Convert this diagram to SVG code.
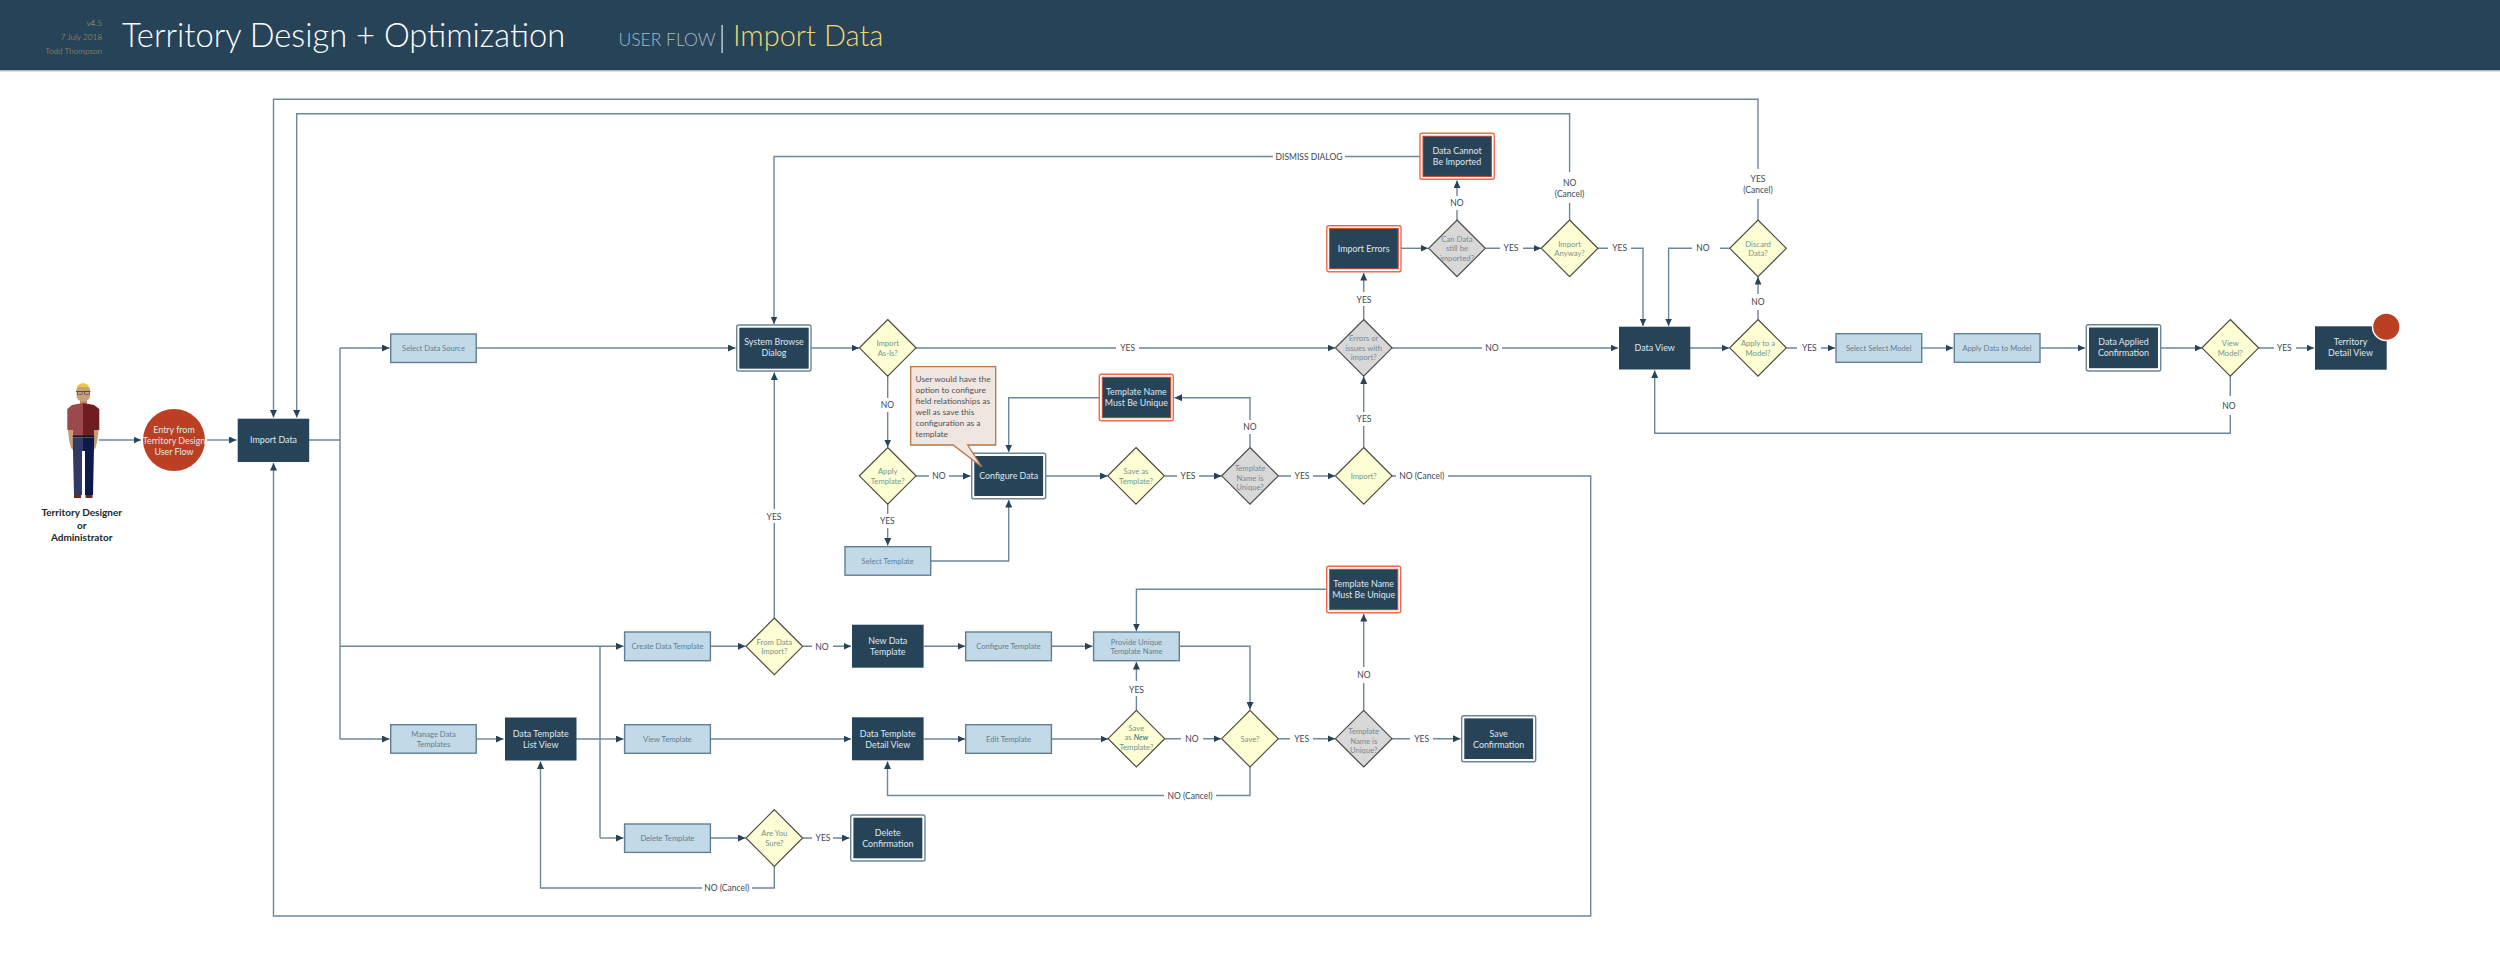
<svg xmlns="http://www.w3.org/2000/svg" width="2500" height="966" viewBox="0 0 2500 966">
<style>
text{font-family:Lato,"Liberation Sans",sans-serif;text-anchor:middle}
.d{fill:#274358}
.dt{fill:#dfe8ee;font-size:8.9px}
.o{fill:#fff;stroke:#6b8599;stroke-width:1.4}
.r{fill:#fff;stroke:#ef6a4c;stroke-width:1.4}
.ri{fill:#274358;stroke:#c8432a;stroke-width:1}
.l{fill:#c2dae7;stroke:#617e94;stroke-width:1.4}
.lt{fill:#5f7e94;font-size:7.6px}
.y{fill:#fefed4;stroke:#4d4a3e;stroke-width:1.2}
.yt{fill:#76958f;font-size:7.7px}
.g{fill:#d8d8d8;stroke:#4a4a4a;stroke-width:1.2}
.gt{fill:#758a9b;font-size:7.7px}
.c{fill:none;stroke:#6d879b;stroke-width:1.4}
.a{marker-end:url(#ah)}
.t{fill:#3d4650;font-size:8.5px}
.n{text-anchor:start;font-size:8.4px;fill:#4f5257}
.h{font-size:8.2px;font-weight:300;fill:#b6a95e}
.p{font-size:10px;font-weight:700;fill:#20262c}
</style>
<defs><marker id="ah" markerUnits="userSpaceOnUse" markerWidth="8" markerHeight="7" refX="7.500" refY="3.500" orient="auto"><path d="M0 0L7.500 3.500L0 7Z" fill="#274358"/></marker></defs>
<rect width="2500" height="966" fill="#fff"/>
<g id="header">
<rect width="2500" height="70.500" fill="#274358"/>
<rect y="70.500" width="2500" height="1.200" fill="#c8d4dd"/>
<text class="h" x="102" y="26" style="text-anchor:end">v4.5</text>
<text class="h" x="102" y="40" style="text-anchor:end">7 July 2018</text>
<text class="h" x="102" y="54" style="text-anchor:end">Todd Thompson</text>
<text x="122" y="47" style="text-anchor:start;font-size:32.700px;font-weight:300" fill="#fff">Territory Design + Optimization</text>
<text x="618.500" y="46" style="text-anchor:start;font-size:17.500px;font-weight:300" fill="#a6bccb">USER FLOW</text>
<rect x="721.500" y="25" width="1.200" height="28" fill="#dfe8ee"/>
<text x="733" y="46" style="text-anchor:start;font-size:29px;font-weight:300" fill="#efd872">Import Data</text>
</g>
<g id="connectors">
<path class="c a" d="M99 440H141"/>
<path class="c a" d="M207 440H236.500"/>
<path class="c" d="M309 440H340M340 348V739"/>
<path class="c a" d="M340 348H389.500"/>
<path class="c a" d="M340 739H389.500"/>
<path class="c a" d="M340 646.300H623.500"/>
<path class="c a" d="M476 739H503.500"/>
<path class="c" d="M576 739H600M600 646.300V838"/>
<path class="c a" d="M600 739H623.500"/>
<path class="c a" d="M600 838H623.500"/>
<path class="c a" d="M476 348H735.500"/>
<path class="c a" d="M811 348H859"/>
<path class="c a" d="M916 348H1116M1139 348H1335"/>
<path class="c a" d="M887.700 376V398M887.700 412V447"/>
<path class="c a" d="M916 476H929M949 476H970.500"/>
<path class="c a" d="M887.700 504V514M887.700 528V545.500"/>
<path class="c a" d="M930.700 561H1008.700V500"/>
<path class="c a" d="M1045.700 476H1107.500"/>
<path class="c a" d="M1164.500 476H1177M1199 476H1221.500"/>
<path class="c a" d="M1278.500 476H1291M1313 476H1335"/>
<path class="c a" d="M1250 447.500V434M1250 420V397.700H1174.500"/>
<path class="c a" d="M1099.300 397.700H1008.700V452"/>
<path class="c a" d="M1363.700 447.500V426M1363.700 412V376.500"/>
<path class="c a" d="M1392 476H1396M1448 476H1590.700V916H273.500V463"/>
<path class="c a" d="M1392 348H1482M1502 348H1618"/>
<path class="c a" d="M1363.700 319.500V306M1363.700 292V273"/>
<path class="c a" d="M1401 248.300H1428"/>
<path class="c a" d="M1457 220V210M1457 196V180.500"/>
<path class="c a" d="M1420 156.500H1345M1273 156.500H774V324"/>
<path class="c a" d="M1485.500 248.300H1500M1523 248.300H1541"/>
<path class="c a" d="M1598 248.300H1608M1631 248.300H1643V326"/>
<path class="c a" d="M1569.600 220V203M1569.600 172V113.700H296.700V417.500"/>
<path class="c a" d="M1758 220V199M1758 169V99.300H273.500V417.500"/>
<path class="c a" d="M1729.500 248.300H1720M1692 248.300H1668.600V326"/>
<path class="c a" d="M1758 319.500V310M1758 294V277"/>
<path class="c a" d="M1690 348H1729"/>
<path class="c a" d="M1786.500 348H1797M1821 348H1835"/>
<path class="c a" d="M1921.700 348H1953"/>
<path class="c a" d="M2040 348H2085"/>
<path class="c a" d="M2160.700 348H2202"/>
<path class="c a" d="M2258.500 348H2274M2296 348H2314"/>
<path class="c a" d="M2230.300 376V396M2230.300 415V433.300H1654.700V370.500"/>
<path class="c a" d="M710.400 646.300H745.500"/>
<path class="c a" d="M774.300 618V523M774.300 509V372.500"/>
<path class="c a" d="M803 646.300H812M833 646.300H851"/>
<path class="c a" d="M923.600 646.300H965"/>
<path class="c a" d="M1051.400 646.300H1092.500"/>
<path class="c a" d="M710.400 739H851"/>
<path class="c a" d="M923.600 739H965"/>
<path class="c a" d="M1051.400 739H1108"/>
<path class="c a" d="M1136.400 710.500V696M1136.400 681V662"/>
<path class="c a" d="M1165 738.700H1181M1203 738.700H1221"/>
<path class="c a" d="M1278.500 738.700H1290M1313 738.700H1335"/>
<path class="c a" d="M1392 738.700H1410M1433 738.700H1460.500"/>
<path class="c a" d="M1363.700 710.500V683M1363.700 667V614"/>
<path class="c a" d="M1326.700 589.300H1136.400V631"/>
<path class="c a" d="M1179.300 646.300H1250V709.500"/>
<path class="c a" d="M1250 767V795.500H1216M1164 795.500H887.500V761.500"/>
<path class="c a" d="M710.400 838H745.500"/>
<path class="c a" d="M803 838H812M833 838H849.500"/>
<path class="c a" d="M774.300 866.500V888H752M702 888H540.500V761.500"/>
<text class="t" x="1127.700" y="351">YES</text>
<text class="t" x="887.300" y="408">NO</text>
<text class="t" x="939" y="479">NO</text>
<text class="t" x="887.300" y="524">YES</text>
<text class="t" x="774" y="520">YES</text>
<text class="t" x="1188" y="479">YES</text>
<text class="t" x="1302" y="479">YES</text>
<text class="t" x="1250" y="430">NO</text>
<text class="t" x="1364" y="422">YES</text>
<text class="t" x="1421.700" y="479">NO (Cancel)</text>
<text class="t" x="1309" y="159.700">DISMISS DIALOG</text>
<text class="t" x="1457" y="206">NO</text>
<text class="t" x="1511" y="251.300">YES</text>
<text class="t" x="1619.600" y="251.300">YES</text>
<text class="t" x="1703" y="251.300">NO</text>
<text class="t" x="1364" y="302.500">YES</text>
<text class="t" x="1491.800" y="351">NO</text>
<text class="t" x="1758" y="305">NO</text>
<text class="t" x="1569.600" y="186">NO</text>
<text class="t" x="1569.600" y="197">(Cancel)</text>
<text class="t" x="1758" y="181.500">YES</text>
<text class="t" x="1758" y="192.500">(Cancel)</text>
<text class="t" x="1809.300" y="351">YES</text>
<text class="t" x="2284.300" y="351">YES</text>
<text class="t" x="2229" y="408.500">NO</text>
<text class="t" x="822" y="649.500">NO</text>
<text class="t" x="823" y="841">YES</text>
<text class="t" x="726.800" y="891">NO (Cancel)</text>
<text class="t" x="1136.500" y="692.500">YES</text>
<text class="t" x="1192" y="742">NO</text>
<text class="t" x="1301.700" y="742">YES</text>
<text class="t" x="1421.700" y="742">YES</text>
<text class="t" x="1364" y="678">NO</text>
<text class="t" x="1190" y="799">NO (Cancel)</text>
</g>
<g id="person">
<path d="M68 430H72.500L73 445L75 452L71 448L69 440ZM94 430H98.500L97.500 440L95.500 448L92 452L94 445Z" fill="#c79d78"/>
<rect x="80" y="400" width="7" height="6" fill="#b98c66"/>
<path d="M76.500 390C76.500 384 90 384 90 390V396C90 403 76.500 403 76.500 396Z" fill="#c9a07c"/>
<path d="M76.500 390C76 381 90 381 90 390L88 387H78Z" fill="#ecc93e"/>
<path d="M76 391.300H90.500V392.100H89.500V394.500H84.200V392.100H82.300V394.500H77V392.100H76Z" fill="#333"/>
<path d="M77.500 391.900H81.700V394H77.500ZM84.800 391.900H89V394H84.800Z" fill="#c9a07c"/>
<path d="M83 403L72 405L67.300 409V430H72.700V436H83Z" fill="#9b494d"/>
<path d="M83 403L94 405L99.300 409V430H94V436H83Z" fill="#6e1e21"/>
<rect x="72.700" y="435.500" width="21.500" height="2" fill="#141414"/>
<path d="M72.700 437.500H83V451H82V495H74Z" fill="#303a64"/>
<path d="M83 437.500H94.200L93 495H85V451H83Z" fill="#0b1a4b"/>
<rect x="74" y="495" width="7" height="3" fill="#6b2a18"/>
<rect x="85.500" y="495" width="7" height="3" fill="#6b2a18"/>
<text class="p" x="81.700" y="516">Territory Designer</text><text class="p" x="81.700" y="528.500">or</text><text class="p" x="81.700" y="541">Administrator</text>
</g>
<g id="entry"><circle cx="174" cy="440" r="31" fill="#bb3f22"/><text class="dt" x="174" y="432.500">Entry from</text><text class="dt" x="174" y="443.500">Territory Design</text><text class="dt" x="174" y="454.500">User Flow</text></g>
<g id="import-data"><rect class="d" x="237.700" y="418.700" width="71.500" height="43.300"/><text class="dt" x="273.500" y="443.200">Import Data</text></g>
<g id="select-data-source"><rect class="l" x="390.700" y="334" width="85.500" height="28.500"/><text class="lt" x="433.500" y="351">Select Data Source</text></g>
<g id="manage-data-templates"><rect class="l" x="390.700" y="724.700" width="85.500" height="28.500"/><text class="lt" x="433.500" y="737">Manage Data</text><text class="lt" x="433.500" y="746.500">Templates</text></g>
<g id="list-view"><rect class="d" x="505" y="717.500" width="71.500" height="43"/><text class="dt" x="540.700" y="736.700">Data Template</text><text class="dt" x="540.700" y="747.700">List View</text></g>
<g id="system-browse"><rect class="o" x="736.700" y="325" width="74.300" height="46" rx="2"/><rect class="d" x="739.300" y="327.700" width="69.400" height="41"/><text class="dt" x="774" y="345.300">System Browse</text><text class="dt" x="774" y="356.300">Dialog</text></g>
<g id="import-as-is"><path class="y" d="M887.700 319.500L916 347.800L887.700 376.100L859.400 347.800Z"/><text class="yt" x="887.700" y="346">Import</text><text class="yt" x="887.700" y="355.500">As-Is?</text></g>
<g id="apply-template"><path class="y" d="M887.700 447.500L916 475.800L887.700 504.100L859.400 475.800Z"/><text class="yt" x="887.700" y="474">Apply</text><text class="yt" x="887.700" y="483.500">Template?</text></g>
<g id="select-template"><rect class="l" x="845" y="546.700" width="85.700" height="28.500"/><text class="lt" x="887.700" y="564">Select Template</text></g>
<g id="configure-data"><rect class="o" x="971.700" y="453.300" width="74" height="45.400" rx="2"/><rect class="d" x="974.300" y="456" width="68.800" height="40"/><text class="dt" x="1008.700" y="479">Configure Data</text></g>
<g id="callout"><path d="M910.700 366.700H995.700V445H967.700L981.700 466.700L953 445H910.700Z" fill="#efe6e1" stroke="#b9764a" stroke-width="1.300"/>
<text class="n" x="915.500" y="382.200">User would have the</text><text class="n" x="915.500" y="393.200">option to configure</text><text class="n" x="915.500" y="404.200">field relationships as</text><text class="n" x="915.500" y="415.200">well as save this</text><text class="n" x="915.500" y="426.200">configuration as a</text><text class="n" x="915.500" y="437.200">template</text></g>
<g id="unique-error-1"><rect class="r" x="1099.300" y="374.300" width="74" height="46.400" rx="2"/><rect class="ri" x="1102.300" y="377.300" width="68.400" height="40.400"/><text class="dt" x="1136.300" y="395">Template Name</text><text class="dt" x="1136.300" y="406">Must Be Unique</text></g>
<g id="save-as-template"><path class="y" d="M1136 447.500L1164.300 475.800L1136 504.100L1107.700 475.800Z"/><text class="yt" x="1136" y="474">Save as</text><text class="yt" x="1136" y="483.500">Template?</text></g>
<g id="name-unique-1"><path class="g" d="M1250 447.500L1278.300 475.800L1250 504.100L1221.700 475.800Z"/><text class="gt" x="1250" y="471">Template</text><text class="gt" x="1250" y="480.500">Name is</text><text class="gt" x="1250" y="490">Unique?</text></g>
<g id="import-q"><path class="y" d="M1363.700 447.500L1392 475.800L1363.700 504.100L1335.400 475.800Z"/><text class="yt" x="1363.700" y="478.500">Import?</text></g>
<g id="errors-q"><path class="g" d="M1363.700 319.500L1392 347.800L1363.700 376.100L1335.400 347.800Z"/><text class="gt" x="1363.700" y="341">Errors or</text><text class="gt" x="1363.700" y="350.500">issues with</text><text class="gt" x="1363.700" y="360">import?</text></g>
<g id="import-errors"><rect class="r" x="1326.800" y="225.700" width="74.200" height="46" rx="2"/><rect class="ri" x="1329.600" y="228.600" width="68.600" height="40.200"/><text class="dt" x="1363.700" y="251.700">Import Errors</text></g>
<g id="can-data"><path class="g" d="M1457 220L1485.300 248.300L1457 276.600L1428.700 248.300Z"/><text class="gt" x="1457" y="241.500">Can Data</text><text class="gt" x="1457" y="251">still be</text><text class="gt" x="1457" y="260.500">imported?</text></g>
<g id="cannot-import"><rect class="r" x="1420" y="133.300" width="74.300" height="46" rx="2"/><rect class="ri" x="1423" y="136.200" width="68.400" height="40.200"/><text class="dt" x="1457" y="154">Data Cannot</text><text class="dt" x="1457" y="165">Be Imported</text></g>
<g id="import-anyway"><path class="y" d="M1569.600 220L1597.900 248.300L1569.600 276.600L1541.300 248.300Z"/><text class="yt" x="1569.600" y="246.500">Import</text><text class="yt" x="1569.600" y="256">Anyway?</text></g>
<g id="data-view"><rect class="d" x="1619" y="326.700" width="71.300" height="42.800"/><text class="dt" x="1654.700" y="351">Data View</text></g>
<g id="discard"><path class="y" d="M1758 220L1786.300 248.300L1758 276.600L1729.700 248.300Z"/><text class="yt" x="1758" y="246.500">Discard</text><text class="yt" x="1758" y="256">Data?</text></g>
<g id="apply-model"><path class="y" d="M1758 319.500L1786.300 347.800L1758 376.100L1729.700 347.800Z"/><text class="yt" x="1758" y="346">Apply to a</text><text class="yt" x="1758" y="355.500">Model?</text></g>
<g id="select-model"><rect class="l" x="1836" y="333.700" width="85.700" height="28.600"/><text class="lt" x="1878.800" y="351">Select Select Model</text></g>
<g id="apply-data"><rect class="l" x="1954.300" y="333.700" width="85.700" height="28.600"/><text class="lt" x="1997" y="351">Apply Data to Model</text></g>
<g id="applied-confirm"><rect class="o" x="2086.300" y="324.700" width="74.400" height="46.300" rx="2"/><rect class="d" x="2089" y="327.500" width="69" height="40.700"/><text class="dt" x="2123.500" y="345.300">Data Applied</text><text class="dt" x="2123.500" y="356.300">Confirmation</text></g>
<g id="view-model"><path class="y" d="M2230.300 319.500L2258.600 347.800L2230.300 376.100L2202 347.800Z"/><text class="yt" x="2230.300" y="346">View</text><text class="yt" x="2230.300" y="355.500">Model?</text></g>
<g id="territory-detail"><rect class="d" x="2315" y="326.300" width="71.700" height="43.400"/><text class="dt" x="2350.500" y="345.300">Territory</text><text class="dt" x="2350.500" y="356.300">Detail View</text></g>
<g id="end"><circle cx="2386.300" cy="326.700" r="13.800" fill="#bb3f22" stroke="#fff" stroke-width="1.500"/></g>
<g id="create-template"><rect class="l" x="624.600" y="632" width="85.800" height="28.700"/><text class="lt" x="667.500" y="649.300">Create Data Template</text></g>
<g id="from-import"><path class="y" d="M774.300 618L802.600 646.300L774.300 674.600L746 646.300Z"/><text class="yt" x="774.300" y="644.500">From Data</text><text class="yt" x="774.300" y="654">Import?</text></g>
<g id="new-template"><rect class="d" x="852" y="624.700" width="71.600" height="43"/><text class="dt" x="887.800" y="644">New Data</text><text class="dt" x="887.800" y="655">Template</text></g>
<g id="configure-template"><rect class="l" x="965.700" y="632" width="85.700" height="28.700"/><text class="lt" x="1008.500" y="649.300">Configure Template</text></g>
<g id="provide-name"><rect class="l" x="1093.600" y="632" width="85.700" height="28.700"/><text class="lt" x="1136.500" y="644.500">Provide Unique</text><text class="lt" x="1136.500" y="654">Template Name</text></g>
<g id="unique-error-2"><rect class="r" x="1326.700" y="566.300" width="74" height="46.400" rx="2"/><rect class="ri" x="1329.600" y="569.300" width="68.200" height="40.400"/><text class="dt" x="1363.700" y="587">Template Name</text><text class="dt" x="1363.700" y="598">Must Be Unique</text></g>
<g id="view-template"><rect class="l" x="624.600" y="724.700" width="85.800" height="28.600"/><text class="lt" x="667.500" y="742">View Template</text></g>
<g id="detail-view"><rect class="d" x="852" y="717.300" width="71.600" height="43"/><text class="dt" x="887.800" y="736.500">Data Template</text><text class="dt" x="887.800" y="747.500">Detail View</text></g>
<g id="edit-template"><rect class="l" x="965.700" y="724.700" width="85.700" height="28.600"/><text class="lt" x="1008.500" y="742">Edit Template</text></g>
<g id="save-new"><path class="y" d="M1136.400 710.400L1164.700 738.700L1136.400 767L1108.100 738.700Z"/><text class="yt" x="1136.400" y="730.500">Save</text><text class="yt" x="1136.400" y="740">as <tspan fill="#3f5a5c" font-style="italic">New</tspan></text><text class="yt" x="1136.400" y="749.500">Template?</text></g>
<g id="save-q"><path class="y" d="M1250 710.400L1278.300 738.700L1250 767L1221.700 738.700Z"/><text class="yt" x="1250" y="741.500">Save?</text></g>
<g id="name-unique-2"><path class="g" d="M1363.700 710.400L1392 738.700L1363.700 767L1335.400 738.700Z"/><text class="gt" x="1363.700" y="734">Template</text><text class="gt" x="1363.700" y="743.500">Name is</text><text class="gt" x="1363.700" y="753">Unique?</text></g>
<g id="save-confirm"><rect class="o" x="1461.700" y="715.700" width="74" height="46" rx="2"/><rect class="d" x="1464.300" y="718.400" width="68.800" height="40.600"/><text class="dt" x="1498.700" y="736.500">Save</text><text class="dt" x="1498.700" y="747.500">Confirmation</text></g>
<g id="delete-template"><rect class="l" x="624.600" y="824" width="85.800" height="28.400"/><text class="lt" x="667.500" y="841">Delete Template</text></g>
<g id="are-you-sure"><path class="y" d="M774.300 809.700L802.600 838L774.300 866.300L746 838Z"/><text class="yt" x="774.300" y="836">Are You</text><text class="yt" x="774.300" y="845.500">Sure?</text></g>
<g id="delete-confirm"><rect class="o" x="850.700" y="815" width="74.300" height="46" rx="2"/><rect class="d" x="853.400" y="817.700" width="68.900" height="40.600"/><text class="dt" x="887.800" y="835.500">Delete</text><text class="dt" x="887.800" y="846.500">Confirmation</text></g>
</svg>
